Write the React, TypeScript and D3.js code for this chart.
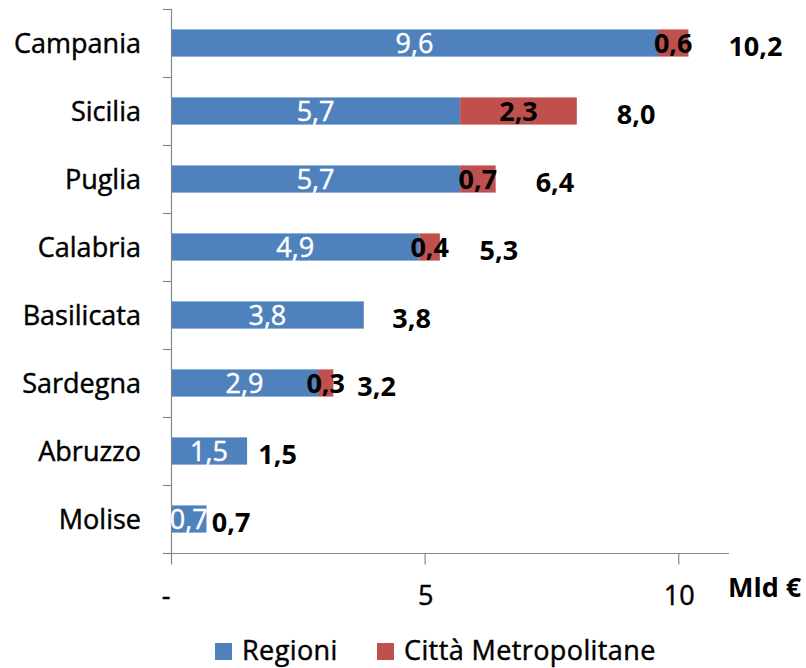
import React from 'react';
import * as d3 from 'd3';

const regions = ['Campania', 'Sicilia', 'Puglia', 'Calabria', 'Basilicata', 'Sardegna', 'Abruzzo', 'Molise'];
const regioni = [9.6, 5.7, 5.7, 4.9, 3.8, 2.9, 1.5, 0.7];
const cittaMetro = [0.6, 2.3, 0.7, 0.4, 0, 0.3, 0, 0];
const totals = [10.2, 8.0, 6.4, 5.3, 3.8, 3.2, 1.5, 0.7];
const xTicks = [0, 5, 10];
const xTickLabels = ['-', '5', '10'];
const seriesNames = ['Regioni', 'Città Metropolitane'];
const colors = ['#4F81BD', '#C0504D'];

const width = 806;
const height = 668;
const font = '"Open Sans", sans-serif';
const fs = 27;
const axisColor = '#868686';

const fmt = (v: number) => v.toFixed(1).replace('.', ',');

const App = () => {
    const x = d3.scaleLinear().domain([0, 11]).range([171, 729]);
    const y = d3.scaleBand().domain(regions).range([9, 553]).paddingInner(0.6).paddingOuter(0.3);
    const step = y.step();
    const bw = y.bandwidth();
    const boundaries = d3.range(regions.length + 1).map(i => 9 + i * step);
    const x0 = x(0);
    const yBottom = 553.5;
    // slight stroke to mimic the heavier rendering of the original
    const heavy = (c: string) => ({ stroke: c, strokeWidth: 0.45 });

    return (
        <svg width={width} height={height} style={{ position: 'absolute', left: 0, top: 0 }} fontFamily={font}>
            <rect width={width} height={height} fill="#fff" />
            {/* bars */}
            {regions.map((r, i) => {
                const yy = y(r) as number;
                return (
                    <g key={r}>
                        <rect x={x0} y={yy} width={x(regioni[i]) - x0} height={bw} fill={colors[0]} />
                        {cittaMetro[i] > 0 && (
                            <rect x={x(regioni[i])} y={yy} width={x(regioni[i] + cittaMetro[i]) - x(regioni[i])} height={bw} fill={colors[1]} />
                        )}
                    </g>
                );
            })}
            {/* axes */}
            <line x1={x0 + 0.5} x2={x0 + 0.5} y1={9} y2={yBottom} stroke={axisColor} strokeWidth={1.2} />
            {boundaries.map((b, i) => (
                <line key={i} x1={163} x2={x0 + 0.5} y1={b + 0.5} y2={b + 0.5} stroke={axisColor} strokeWidth={1.2} />
            ))}
            <line x1={x0} x2={x(11)} y1={yBottom} y2={yBottom} stroke={axisColor} strokeWidth={1.2} />
            {xTicks.map((t, i) => (
                <g key={t}>
                    <line x1={x(t) + 0.5} x2={x(t) + 0.5} y1={yBottom} y2={yBottom + 11} stroke={axisColor} strokeWidth={1.2} />
                    <text x={x(t) + (t === 0 ? -5 : 1)} y={605} textAnchor="middle" fontSize={fs} fill="#000" {...heavy('#000')}>{xTickLabels[i]}</text>
                </g>
            ))}
            <text x={728} y={597} fontSize={fs} fontWeight="bold" fill="#000">Mld €</text>
            {/* category labels */}
            {regions.map(r => (
                <text key={r} x={141} y={(y(r) as number) + bw / 2} dy="0.36em" textAnchor="end" fontSize={fs} fill="#000" {...heavy('#000')}>{r}</text>
            ))}
            {/* data labels */}
            {regions.map((r, i) => {
                const cy = (y(r) as number) + bw / 2;
                const gap = Math.min(40, totals[i] * 7.5);
                return (
                    <g key={r}>
                        <text x={x(regioni[i] / 2)} y={cy} dy="0.36em" textAnchor="middle" fontSize={fs} fill="#fff" {...heavy('#fff')}>{fmt(regioni[i])}</text>
                        {cittaMetro[i] > 0 && (
                            <text x={x(regioni[i] + cittaMetro[i] / 2)} y={cy} dy="0.36em" textAnchor="middle" fontSize={fs} fontWeight="bold" fill="#000">{fmt(cittaMetro[i])}</text>
                        )}
                        <text x={x(totals[i]) + gap} y={cy + 3} dy="0.36em" textAnchor="start" fontSize={fs} fontWeight="bold" fill="#000">{fmt(totals[i])}</text>
                    </g>
                );
            })}
            {/* legend */}
            {seriesNames.map((s, i) => {
                const lx = i === 0 ? 215 : 377;
                return (
                    <g key={s}>
                        <rect x={lx} y={643} width={17} height={17} fill={colors[i]} />
                        <text x={lx + 27} y={660} fontSize={fs} fill="#000" letterSpacing={0.4} {...heavy('#000')}>{s}</text>
                    </g>
                );
            })}
        </svg>
    );
};

export default App;
